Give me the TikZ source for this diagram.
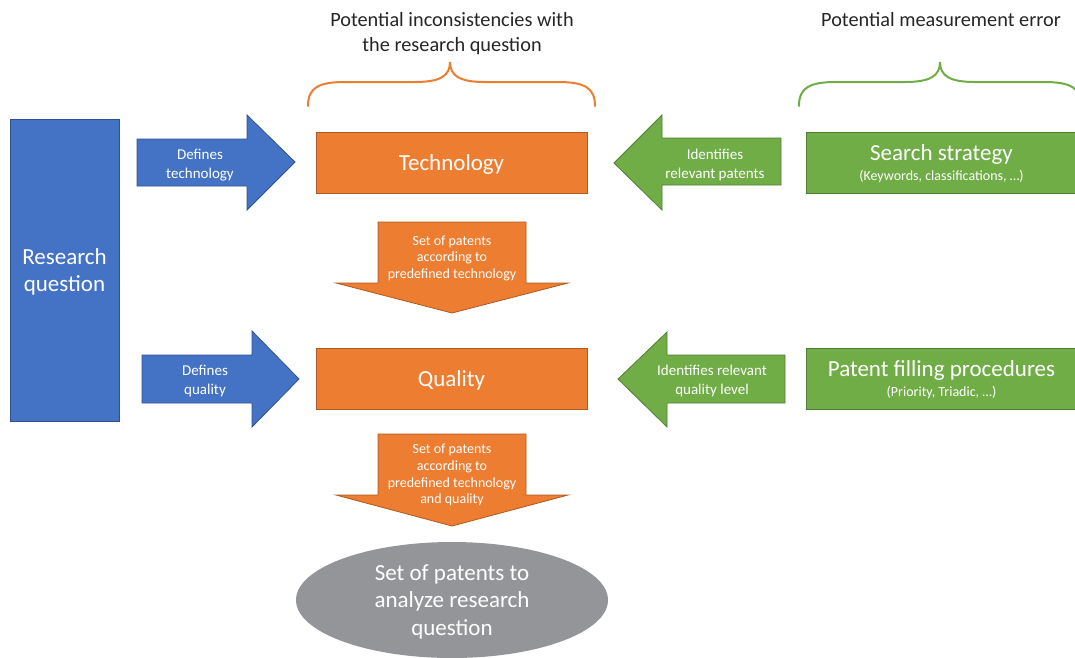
\documentclass[tikz,border=0pt]{standalone}
\usepackage{fontspec}
\setmainfont{Carlito}
\usetikzlibrary{shapes.geometric}

\definecolor{rqblue}{HTML}{4472C4}
\definecolor{rqblueline}{HTML}{2F528F}
\definecolor{techorange}{HTML}{ED7D31}
\definecolor{techorangeline}{HTML}{AE5A21}
\definecolor{measgreen}{HTML}{70AD47}
\definecolor{measgreenline}{HTML}{507E32}
\definecolor{resultgray}{HTML}{939598}
\definecolor{headtext}{HTML}{262626}

\newcommand{\subtitlefont}{\fontsize{14}{16}\selectfont}

\tikzset{
  bluefill/.style={fill=rqblue, draw=rqblueline, line width=0.8pt},
  orangefill/.style={fill=techorange, draw=techorangeline, line width=0.8pt},
  greenfill/.style={fill=measgreen, draw=measgreenline, line width=0.8pt},
  bigbox/.style={rectangle, inner sep=0pt, text=white, align=center, text depth=0pt,
    font=\fontsize{23}{27.5}\selectfont},
  twoline/.style={text depth=-4pt},
  arrowlabel/.style={inner sep=0pt, text=white, align=center, text depth=0pt,
    font=\fontsize{15}{19}\selectfont},
  downlabel/.style={inner sep=0pt, text=white, align=center, text depth=0pt,
    font=\fontsize{14}{16.7}\selectfont},
  heading/.style={inner sep=0pt, text=headtext, align=center, text depth=0pt,
    font=\fontsize{20.3}{25}\selectfont},
  bracket/.style={line width=2pt, line cap=round}
}

\begin{document}
\begin{tikzpicture}[x=1pt, y=-1pt]
  \useasboundingbox (0,0) rectangle (1075,657);
  \clip (0,0) rectangle (1075,657);

  % headings above the braces
  \node[heading] (incons) at (452,32) {Potential inconsistencies with\\the research question};
  \node[heading] (measerr) at (941,19) {Potential measurement error};

  % braces
  \draw[bracket, draw=techorange]
    (308,106) .. controls (308,88) and (318,82) .. (345,82) -- (415,82)
    .. controls (440,82) and (450,76) .. (450,62)
    .. controls (450,76) and (460,82) .. (485,82) -- (558,82)
    .. controls (585,82) and (595,88) .. (595,106);
  \draw[bracket, draw=measgreen]
    (799,106) .. controls (799,88) and (809,82) .. (836,82) -- (905,82)
    .. controls (930,82) and (940,76) .. (940,62)
    .. controls (940,76) and (950,82) .. (975,82) -- (1044,82)
    .. controls (1071,82) and (1081,88) .. (1081,106);

  % main boxes
  \node[bigbox, bluefill, minimum width=109pt, minimum height=302pt] (rq) at (64.5,270) {Research\\question};
  \node[bigbox, orangefill, minimum width=271pt, minimum height=61pt] (tech) at (451.5,162.5) {Technology};
  \node[bigbox, orangefill, minimum width=271pt, minimum height=61pt] (qual) at (451.5,378.5) {Quality};
  \node[bigbox, twoline, greenfill, minimum width=271pt, minimum height=61pt] (search) at (941.5,162.5)
    {Search strategy\\[-8pt]{\subtitlefont (Keywords, classifications, …)}};
  \node[bigbox, twoline, greenfill, minimum width=271pt, minimum height=61pt] (filing) at (941.5,378.5)
    {Patent filling procedures\\[-8pt]{\subtitlefont (Priority, Triadic, …)}};
  \node[ellipse, inner sep=0pt, fill=resultgray, text=white, align=center, text depth=0pt,
    minimum width=312pt, minimum height=116pt,
    font=\fontsize{23}{27.5}\selectfont] (result) at (452,600)
    {Set of patents to\\analyze research\\question};

  % block arrows from the research question
  \path[bluefill] (137,139) -- (247,139) -- (247,115) -- (295,162) -- (247,210) -- (247,186) -- (137,186) -- cycle;
  \node[arrowlabel] (deftech) at (200,164) {Defines\\technology};
  \path[bluefill] (142,355) -- (252,355) -- (252,331) -- (299,379) -- (252,427) -- (252,403) -- (142,403) -- cycle;
  \node[arrowlabel] (defqual) at (205,380) {Defines\\quality};

  % block arrows from the measurement side
  \path[greenfill] (781,138) -- (662,138) -- (662,115) -- (614,163) -- (662,210) -- (662,185) -- (781,185) -- cycle;
  \node[arrowlabel] (idpat) at (715,164) {Identifies\\relevant patents};
  \path[greenfill] (785,355) -- (667,355) -- (667,332) -- (618,379) -- (667,427) -- (667,403) -- (785,403) -- cycle;
  \node[arrowlabel] (idqual) at (712,380) {Identifies relevant\\quality level};

  % downward block arrows
  \path[orangefill] (378,222) -- (526,222) -- (526,283) -- (568,283) -- (452,313) -- (336,283) -- (378,283) -- cycle;
  \node[downlabel] (settech) at (452,257) {Set of patents\\according to\\predefined technology};
  \path[orangefill] (378,434) -- (526,434) -- (526,495) -- (568,495) -- (452,526) -- (336,495) -- (378,495) -- cycle;
  \node[downlabel] (setqual) at (452,474) {Set of patents\\according to\\predefined technology\\and quality};
\end{tikzpicture}
\end{document}
